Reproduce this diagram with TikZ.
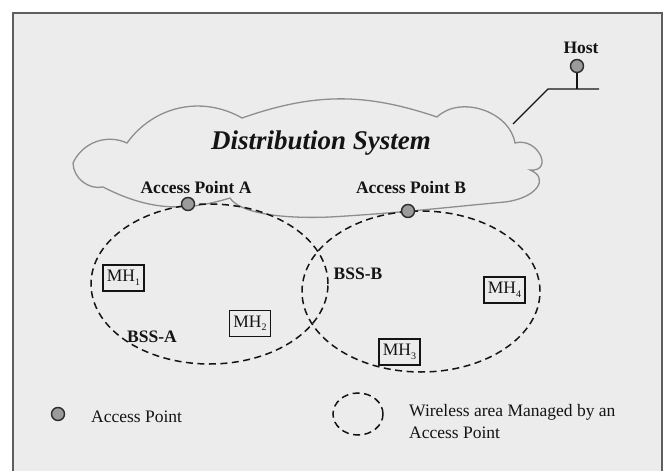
\documentclass[tikz,border=0pt]{standalone}
\usepackage{fontspec}
\setmainfont{Liberation Serif}
\usetikzlibrary{positioning,shapes.geometric}
\definecolor{NetPaper}{HTML}{ECECEC}
\definecolor{NetFrame}{HTML}{5E5E5E}
\definecolor{NetCloud}{HTML}{8E8E8E}
\definecolor{NetDot}{HTML}{9B9B9B}
\definecolor{NetInk}{HTML}{141414}
\tikzset{
  apdot/.style={circle,draw=NetInk!90,fill=NetDot,line width=1.4pt,minimum size=13pt,inner sep=0pt},
  mhbox/.style={draw=NetInk,fill=NetPaper,line width=1.4pt,minimum width=41pt,minimum height=26pt,inner sep=1pt,font=\fontsize{17.5}{20}\selectfont,text=NetInk},
  wlan/.style={draw=NetInk,line width=1.5pt,dash pattern=on 7pt off 4.5pt},
  boldlbl/.style={font=\fontsize{17.5}{20}\selectfont\bfseries,text=NetInk,inner sep=0pt},
  plainlbl/.style={font=\fontsize{17.5}{22}\selectfont,text=NetInk,inner sep=0pt},
  wire/.style={draw=NetInk,line width=1.4pt},
  cloudline/.style={draw=NetCloud,line width=1.3pt,fill=NetPaper}
}
\newcommand{\mhsub}[1]{\raisebox{-3.5pt}{\fontsize{10}{10}\selectfont#1}}

\begin{document}
\begin{tikzpicture}[x=1pt,y=1pt]
\useasboundingbox (0,0) rectangle (665,-471);
\fill[white] (0,0) rectangle (665,-471);
\draw[NetFrame,line width=1.8pt,fill=NetPaper] (13,-480) -- (13,-13) -- (662,-13) -- (662,-480);
% distribution system cloud
\draw[cloudline] (73,-163) to[bend left=45] (127,-143) to[bend left=42] (242,-118)
  to[bend left=19] (437,-117) to[bend left=62] (515,-143)
  to[out=15,in=-5,looseness=2] (530,-170)
  .. controls (550,-178) and (537,-198) .. (505,-202)
  .. controls (460,-206) and (400,-213) .. (330,-217)
  .. controls (280,-219) and (240,-213) .. (230,-198)
  to[bend left=22] (103,-187) to[bend left=50] cycle;
\node[boldlbl,font=\fontsize{27}{30}\selectfont\bfseries\itshape,anchor=base] (ds) at (321,-149) {Distribution System};
% host on the wired side
\node[apdot] (host) at (577,-66) {};
\node[boldlbl,anchor=base] (hostlbl) at (581,-53) {Host};
\coordinate (busL) at (548,-89);
\coordinate (busR) at (599,-89);
\coordinate (dsjoint) at (513,-124);
\draw[wire] (dsjoint) -- (busL) -- (busR);
\draw[wire] (host) -- (host |- busL);
% the two cells
\draw[wlan] (209.5,-284) ellipse [x radius=118.5, y radius=80];
\draw[wlan] (421,-291.5) ellipse [x radius=119, y radius=80.5];
\node[apdot] (apA) at (188,-204) {};
\node[apdot] (apB) at (408,-211) {};
\node[boldlbl,anchor=base] (apAlbl) at (196,-193) {Access Point A};
\node[boldlbl,anchor=base] (apBlbl) at (411,-193) {Access Point B};
\node[boldlbl,anchor=base] (bssAlbl) at (152,-342) {BSS-A};
\node[boldlbl,anchor=base] (bssBlbl) at (358,-279) {BSS-B};
\node[mhbox] (mh1) at (123.5,-278) {MH\mhsub{1}};
\node[mhbox] (mh2) at (250,-323.5) {MH\mhsub{2}};
\node[mhbox] (mh3) at (399.5,-352) {MH\mhsub{3}};
\node[mhbox] (mh4) at (504.5,-290) {MH\mhsub{4}};
% legend
\node[apdot] (legdot) at (58,-414) {};
\node[plainlbl,anchor=base west] (legdottxt) at (91,-422) {Access Point};
\node[wlan,ellipse,minimum width=50pt,minimum height=42pt,inner sep=0pt] (legarea) at (358,-414) {};
\node[plainlbl,align=left,anchor=north west] (legareatxt) at (409,-404) {Wireless area Managed by an\\Access Point};
\end{tikzpicture}
\end{document}
